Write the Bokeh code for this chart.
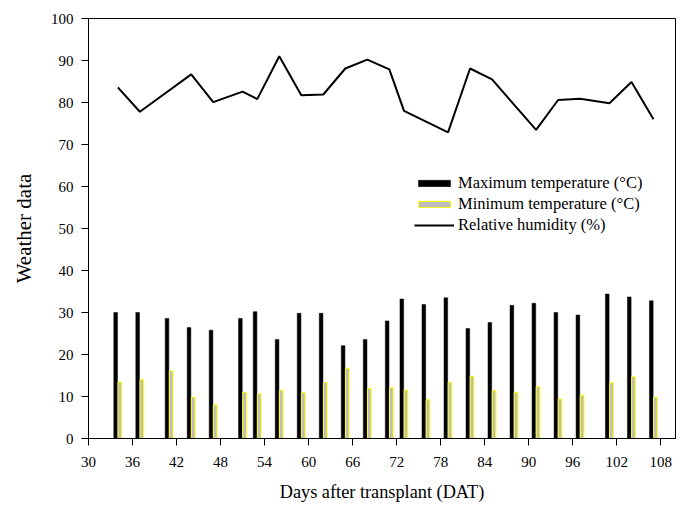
from bokeh.plotting import figure
from bokeh.models import Legend, LegendItem, FixedTicker, ColumnDataSource
from bokeh.transform import dodge
from bokeh.embed import file_html
from bokeh.resources import INLINE

# ---- data ----
days = [34, 37, 41, 44, 47, 51, 53, 56, 59, 62, 65, 68, 71, 73, 76, 79, 82, 85, 88, 91, 94, 97, 101, 104, 107]
tmax = [30.0, 30.0, 28.6, 26.4, 25.8, 28.6, 30.2, 23.6, 29.8, 29.8, 22.1, 23.6, 28.0, 33.2, 31.9, 33.5,
        26.2, 27.6, 31.7, 32.2, 30.0, 29.4, 34.4, 33.7, 32.8]
tmin = [13.4, 14.0, 16.1, 9.8, 8.0, 11.0, 10.6, 11.5, 10.9, 13.3, 16.7, 11.9, 12.1, 11.5, 9.2, 13.3,
        14.8, 11.4, 11.0, 12.3, 9.4, 10.3, 13.3, 14.7, 9.8]
rh_days = [34, 37, 44, 47, 51, 53, 56, 59, 62, 65, 68, 71, 73, 79, 82, 85, 91, 94, 97, 101, 104, 107]
rh = [83.6, 77.8, 86.7, 80.1, 82.6, 80.8, 91.0, 81.7, 81.9, 88.1, 90.2, 87.9, 78.0, 72.9,
      88.1, 85.5, 73.5, 80.6, 80.9, 79.8, 84.9, 76.0]
x_ticks = list(range(30, 109, 6))
y_ticks = list(range(0, 101, 10))

FONT = "Liberation Serif"

src = ColumnDataSource(dict(day=days, tmax=tmax, tmin=tmin))

p = figure(width=687, height=505, x_range=(30, 110), y_range=(0, 100),
           output_backend="svg", toolbar_location=None,
           min_border_left=88, min_border_right=12, min_border_top=18, min_border_bottom=67)

r_max = p.vbar(x=dodge("day", -0.3, range=p.x_range), top="tmax", width=0.5, source=src,
               fill_color="black", line_color="black", line_width=0.5)
r_min = p.vbar(x=dodge("day", 0.27, range=p.x_range), top="tmin", width=0.5, source=src,
               fill_color="#bdbdbd", line_color="#ffff00", line_width=1)
r_rh = p.line(rh_days, rh, line_color="black", line_width=2)

p.xgrid.visible = False
p.ygrid.visible = False
p.outline_line_color = "black"
p.outline_line_width = 1
p.background_fill_color = "white"
p.border_fill_color = "white"

for ax in (p.xaxis[0], p.yaxis[0]):
    ax.axis_line_color = "black"
    ax.axis_line_width = 1
    ax.major_tick_line_color = "black"
    ax.major_tick_in = 0
    ax.major_tick_out = 7
    ax.minor_tick_line_color = None
    ax.major_label_text_font = FONT
    ax.major_label_text_font_size = "15px"
    ax.major_label_text_color = "black"
    ax.axis_label_text_font = FONT
    ax.axis_label_text_font_style = "normal"
    ax.axis_label_text_color = "black"

p.xaxis.ticker = FixedTicker(ticks=x_ticks)
p.yaxis.ticker = FixedTicker(ticks=y_ticks)
p.xaxis.axis_label = "Days after transplant (DAT)"
p.yaxis.axis_label = "Weather data"
p.xaxis.axis_label_text_font_size = "18.3px"
p.yaxis.axis_label_text_font_size = "21px"
p.xaxis.major_label_standoff = 11
p.xaxis.axis_label_standoff = 12
p.yaxis.major_label_standoff = 8
p.yaxis.axis_label_standoff = 12

legend = Legend(items=[
    LegendItem(label="Maximum temperature (°C)", renderers=[r_max]),
    LegendItem(label="Minimum temperature (°C)", renderers=[r_min]),
    LegendItem(label="Relative humidity (%)", renderers=[r_rh]),
], location=(326, 203))
legend.background_fill_alpha = 0
legend.border_line_color = None
legend.padding = 0
legend.margin = 0
legend.spacing = 1
legend.glyph_width = 40
legend.glyph_height = 8
legend.label_height = 19
legend.label_standoff = 4
legend.label_text_font = FONT
legend.label_text_font_size = "16.5px"
legend.label_text_color = "black"
p.add_layout(legend, "center")

open("out.html", "w").write(file_html(p, INLINE))
